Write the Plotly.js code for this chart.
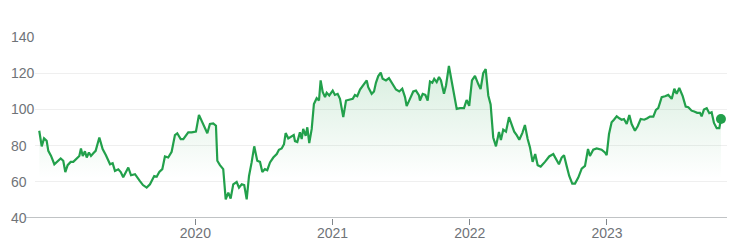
<!DOCTYPE html>
<html>
<head>
<meta charset="utf-8">
<script src="https://cdn.plot.ly/plotly-3.0.1.min.js"></script>
<style>
  html, body { margin: 0; padding: 0; background: #fff; }
  #chart { width: 750px; height: 244px; }
</style>
</head>
<body>
<div id="chart"></div>
<script>
// Time as decimal years
const years = [
  2018.862, 2018.880, 2018.897, 2018.916, 2018.928, 2018.948, 2018.972, 2019.001, 2019.018, 2019.037,
  2019.052, 2019.069, 2019.091, 2019.110, 2019.135, 2019.154, 2019.166, 2019.179, 2019.195, 2019.208,
  2019.224, 2019.239, 2019.256, 2019.273, 2019.300, 2019.324, 2019.348, 2019.378, 2019.397, 2019.414,
  2019.438, 2019.456, 2019.474, 2019.487, 2019.511, 2019.531, 2019.560, 2019.596, 2019.618, 2019.645,
  2019.669, 2019.700, 2019.718, 2019.737, 2019.759, 2019.778, 2019.802, 2019.827, 2019.851, 2019.868,
  2019.893, 2019.912, 2019.948, 2019.973, 2020.004, 2020.026, 2020.058, 2020.087, 2020.106, 2020.130,
  2020.150, 2020.160, 2020.179, 2020.203, 2020.221, 2020.240, 2020.257, 2020.276, 2020.301, 2020.318,
  2020.338, 2020.356, 2020.374, 2020.391, 2020.410, 2020.429, 2020.451, 2020.471, 2020.488, 2020.507,
  2020.524, 2020.544, 2020.568, 2020.593, 2020.609, 2020.629, 2020.646, 2020.658, 2020.677, 2020.697,
  2020.717, 2020.726, 2020.743, 2020.762, 2020.775, 2020.786, 2020.804, 2020.816, 2020.830, 2020.848,
  2020.864, 2020.884, 2020.901, 2020.913, 2020.928, 2020.945, 2020.957, 2020.976, 2021.001, 2021.017,
  2021.037, 2021.054, 2021.066, 2021.078, 2021.098, 2021.127, 2021.147, 2021.163, 2021.180, 2021.200,
  2021.224, 2021.249, 2021.260, 2021.285, 2021.302, 2021.316, 2021.333, 2021.351, 2021.365, 2021.389,
  2021.411, 2021.431, 2021.462, 2021.486, 2021.508, 2021.528, 2021.540, 2021.564, 2021.588, 2021.608,
  2021.630, 2021.637, 2021.657, 2021.676, 2021.693, 2021.710, 2021.727, 2021.741, 2021.759, 2021.776,
  2021.790, 2021.812, 2021.827, 2021.848, 2021.868, 2021.885, 2021.905, 2021.929, 2021.958, 2021.977,
  2021.996, 2022.016, 2022.038, 2022.062, 2022.079, 2022.098, 2022.116, 2022.135, 2022.152, 2022.171,
  2022.191, 2022.213, 2022.227, 2022.244, 2022.264, 2022.286, 2022.305, 2022.324, 2022.342, 2022.361,
  2022.383, 2022.402, 2022.422, 2022.439, 2022.458, 2022.477, 2022.495, 2022.517, 2022.548, 2022.579,
  2022.609, 2022.628, 2022.650, 2022.670, 2022.687, 2022.706, 2022.725, 2022.747, 2022.767, 2022.791,
  2022.816, 2022.840, 2022.862, 2022.876, 2022.900, 2022.925, 2022.961, 2022.985, 2022.998, 2023.015,
  2023.034, 2023.051, 2023.071, 2023.090, 2023.107, 2023.124, 2023.144, 2023.163, 2023.180, 2023.204,
  2023.224, 2023.246, 2023.272, 2023.294, 2023.313, 2023.338, 2023.357, 2023.374, 2023.399, 2023.423,
  2023.447, 2023.472, 2023.491, 2023.508, 2023.527, 2023.552, 2023.574, 2023.593, 2023.617, 2023.636,
  2023.658, 2023.678, 2023.690, 2023.707, 2023.727, 2023.746, 2023.763, 2023.780, 2023.800, 2023.819,
  2023.831
];

// Price values
const prices = [
  88.2, 79.6, 84.0, 82.7, 77.1, 74.3, 69.7, 71.6, 72.9, 71.6,
  65.4, 69.2, 71.0, 71.0, 72.9, 74.3, 78.4, 74.3, 76.9, 73.4,
  76.2, 74.3, 75.8, 77.1, 84.5, 78.1, 74.7, 69.7, 70.3, 66.0,
  66.9, 65.4, 62.5, 64.2, 67.9, 63.6, 64.2, 60.4, 58.2, 56.8,
  58.6, 63.2, 62.8, 65.4, 67.0, 74.0, 73.4, 76.6, 85.8, 86.8,
  83.6, 83.6, 87.3, 87.3, 87.7, 97.0, 91.4, 86.8, 92.0, 92.3,
  91.0, 71.6, 69.2, 67.0, 50.3, 54.0, 50.7, 58.6, 59.9, 56.8,
  58.6, 58.2, 50.3, 63.2, 70.7, 79.6, 71.6, 71.0, 65.4, 67.0,
  66.4, 70.7, 73.4, 75.3, 77.7, 78.4, 80.8, 86.9, 84.0, 85.1,
  85.8, 82.5, 82.0, 87.3, 83.6, 89.2, 85.4, 90.1, 81.4, 89.2,
  103.0, 106.2, 104.9, 116.0, 109.6, 106.8, 109.2, 107.7, 110.4, 108.0,
  108.6, 105.8, 101.2, 95.7, 104.9, 105.4, 105.8, 108.0, 107.3, 111.0,
  113.6, 116.0, 112.3, 108.6, 109.9, 114.7, 118.4, 120.3, 116.9, 116.0,
  117.3, 114.7, 111.0, 109.9, 111.4, 106.8, 101.8, 105.8, 109.9, 110.4,
  107.7, 104.9, 108.6, 108.0, 104.9, 115.4, 114.7, 116.9, 115.1, 117.9,
  116.0, 108.6, 113.2, 124.0, 116.0, 108.6, 100.3, 100.7, 100.7, 105.2,
  102.0, 116.0, 118.5, 114.0, 111.2, 120.0, 122.3, 107.7, 102.7, 84.5,
  79.6, 87.5, 83.1, 88.8, 87.7, 95.7, 91.0, 87.7, 85.8, 83.2,
  86.9, 91.4, 83.6, 79.0, 71.0, 75.3, 69.2, 68.4, 71.0, 74.0,
  75.3, 72.5, 69.7, 73.4, 74.7, 68.8, 63.2, 59.0, 59.0, 62.3,
  67.3, 68.8, 78.1, 74.3, 77.7, 78.4, 77.7, 76.2, 74.7, 86.4,
  92.9, 94.3, 96.2, 95.1, 94.3, 94.7, 91.9, 96.9, 91.9, 88.2,
  90.7, 94.7, 94.3, 95.1, 96.0, 96.0, 99.7, 100.7, 106.8, 107.3,
  108.0, 105.8, 111.4, 108.6, 111.8, 107.3, 101.6, 101.2, 99.3, 98.8,
  98.1, 98.1, 96.2, 99.9, 100.7, 97.9, 98.4, 92.5, 89.6, 89.6,
  94.7
];

const yTicks = [40, 60, 80, 100, 120, 140];
const yTickLabels = ["40", "60", "80", "100", "120", "140"];
const xTicks = [2020, 2021, 2022, 2023];
const xTickLabels = ["2020", "2021", "2022", "2023"];

const GREEN = '#22a04b';
const FONT = 'Liberation Sans, Arial, sans-serif';
const LABEL = '#6f7378';

const lastX = years[years.length - 1];
const lastY = prices[prices.length - 1];

const traces = [
  {
    x: years, y: prices, type: 'scatter', mode: 'lines',
    line: { color: GREEN, width: 2.2 },
    fill: 'tozeroy',
    fillcolor: 'rgba(34,160,75,0.08)',
    fillgradient: {
      type: 'vertical',
      start: 62, stop: 124,
      colorscale: [[0, 'rgba(34,160,75,0)'], [1, 'rgba(34,160,75,0.18)']]
    },
    hoverinfo: 'skip', showlegend: false
  },
  {
    x: [lastX], y: [lastY], type: 'scatter', mode: 'markers',
    marker: { color: GREEN, size: 10 },
    hoverinfo: 'skip', showlegend: false, cliponaxis: false
  }
];

const annotations = yTicks.map((v, i) => ({
  xref: 'paper', yref: 'y', x: -0.0365, y: v,
  xanchor: 'left', yanchor: 'middle',
  text: yTickLabels[i], showarrow: false,
  font: { family: FONT, size: 14, color: LABEL },
  borderpad: 0
}));

const layout = {
  width: 750, height: 244,
  margin: { l: 35, r: 23, t: 37, b: 26, pad: 0 },
  paper_bgcolor: '#ffffff', plot_bgcolor: '#ffffff',
  font: { family: FONT, size: 14, color: LABEL },
  xaxis: {
    range: [2018.831, 2023.875],
    tickmode: 'array', tickvals: xTicks, ticktext: xTickLabels,
    showgrid: false, zeroline: false, showline: false,
    ticks: 'outside', ticklen: 6, tickwidth: 1, tickcolor: '#80868b',
    ticklabelstandoff: -4,
    tickfont: { family: FONT, size: 14, color: LABEL },
    fixedrange: true
  },
  yaxis: {
    range: [40, 140],
    tickmode: 'array', tickvals: yTicks, ticktext: yTickLabels,
    showticklabels: false,
    showgrid: true, gridcolor: '#efefef', gridwidth: 1,
    zeroline: false, showline: false, ticks: '',
    fixedrange: true
  },
  shapes: [
    { type: 'line', xref: 'paper', yref: 'y', x0: -0.013, x1: 1, y0: 40, y1: 40,
      line: { color: '#80868b', width: 1 }, layer: 'above' }
  ],
  annotations: annotations,
  showlegend: false
};

Plotly.newPlot('chart', traces, layout, { displayModeBar: false, staticPlot: true });
</script>
</body>
</html>
